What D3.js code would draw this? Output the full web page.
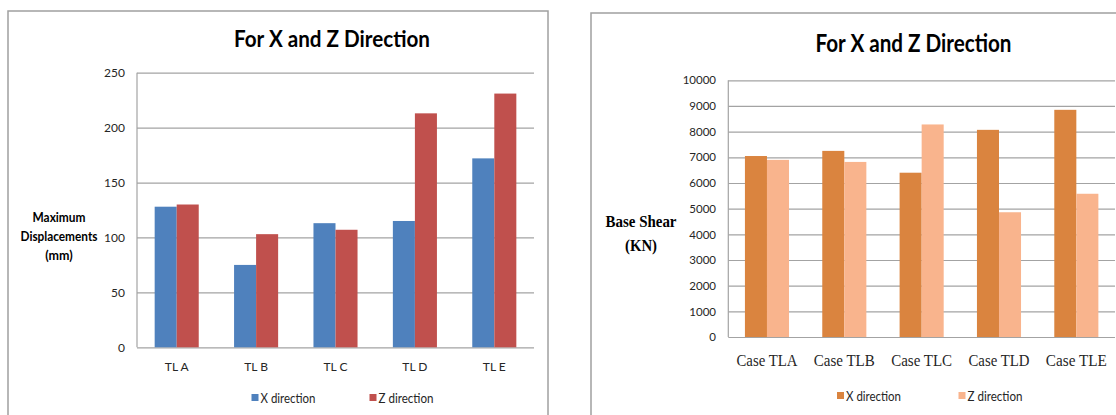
<!DOCTYPE html>
<html>
<head>
<meta charset="utf-8">
<script src="https://cdn.jsdelivr.net/npm/d3@7"></script>
<style>
  html, body { margin: 0; padding: 0; background: #fff; }
  svg { display: block; }
</style>
</head>
<body>
<svg id="chart" width="1116" height="415"></svg>
<script>
// ---------- data ----------
const seriesNames = ["X direction", "Z direction"];

const dispCategories = ["TL A", "TL B", "TL C", "TL D", "TL E"];
const dispX = [128, 75, 113, 115, 172];
const dispZ = [130, 103, 107, 213, 231];
const dispTicks = [0, 50, 100, 150, 200, 250];

const shearCategories = ["Case TLA", "Case TLB", "Case TLC", "Case TLD", "Case TLE"];
const shearX = [7050, 7250, 6400, 8070, 8850];
const shearZ = [6900, 6820, 8280, 4860, 5580];
const shearTicks = [0, 1000, 2000, 3000, 4000, 5000, 6000, 7000, 8000, 9000, 10000];

// ---------- drawing ----------
const svg = d3.select("#chart");
const sansFont = "Lato, 'Open Sans', sans-serif";
const serifFont = "'Liberation Serif', 'DejaVu Serif', serif";

function fitText(sel, target) {
  sel.each(function () {
    const w = this.getComputedTextLength();
    if (w > target) {
      d3.select(this).attr("textLength", target).attr("lengthAdjust", "spacingAndGlyphs");
    }
  });
}

function drawChart(cfg) {
  const g = svg.append("g");

  // frame
  g.append("rect")
    .attr("x", cfg.frame[0]).attr("y", cfg.frame[1])
    .attr("width", cfg.frame[2]).attr("height", cfg.frame[3])
    .attr("fill", "#fff").attr("stroke", "#a0a0a0").attr("stroke-width", 1.5);

  const x0 = d3.scaleBand().domain(cfg.categories)
    .range([cfg.left, cfg.right]).paddingInner(cfg.pad).paddingOuter(cfg.pad / 2);
  const x1 = d3.scaleBand().domain(seriesNames).range([0, x0.bandwidth()]);
  const y = d3.scaleLinear().domain([0, cfg.max]).range([cfg.bottom, cfg.top]);

  // gridlines
  const grid = g.append("g")
    .attr("transform", `translate(${cfg.left},0)`)
    .call(d3.axisLeft(y).tickValues(cfg.ticks).tickSize(-(cfg.right - cfg.left)).tickFormat(""));
  grid.select(".domain").remove();
  grid.selectAll("line").attr("stroke", "#a3a3a3").attr("stroke-width", 1.2);

  // y tick labels
  const yAxis = g.append("g")
    .attr("transform", `translate(${cfg.labelX},0)`)
    .call(d3.axisLeft(y).tickValues(cfg.ticks).tickSize(0).tickPadding(0).tickFormat(d3.format("d")));
  yAxis.select(".domain").remove();
  yAxis.selectAll("text")
    .attr("font-family", sansFont).attr("font-size", cfg.tickSize)
    .attr("fill", "#262626");

  // vertical axis line
  g.append("line")
    .attr("x1", cfg.left).attr("x2", cfg.left)
    .attr("y1", cfg.top).attr("y2", cfg.bottom)
    .attr("stroke", "#a3a3a3").attr("stroke-width", 1.2);

  // bars
  const rows = cfg.categories.map((c, i) => ({ cat: c, vals: [cfg.xs[i], cfg.zs[i]] }));
  const groups = g.append("g").selectAll("g").data(rows).join("g")
    .attr("transform", d => `translate(${x0(d.cat)},0)`);
  groups.selectAll("rect")
    .data(d => d.vals.map((v, k) => ({ name: seriesNames[k], v: v, k: k })))
    .join("rect")
    .attr("x", d => x1(d.name))
    .attr("width", x1.bandwidth())
    .attr("y", d => y(d.v))
    .attr("height", d => y(0) - y(d.v))
    .attr("fill", d => cfg.colors[d.k]);

  // x labels
  const xl = g.append("g").selectAll("text").data(cfg.categories).join("text")
    .attr("x", d => x0(d) + x0.bandwidth() / 2)
    .attr("y", cfg.xLabelY)
    .attr("text-anchor", "middle")
    .attr("font-family", cfg.xFont).attr("font-size", cfg.xSize)
    .attr("fill", "#262626")
    .text(d => d);
  if (cfg.xFit) fitText(xl, cfg.xFit);

  // title
  const t = g.append("text")
    .attr("x", cfg.titleX).attr("y", cfg.titleY)
    .attr("text-anchor", "middle")
    .attr("font-family", sansFont).attr("font-weight", "bold")
    .attr("font-size", cfg.titleSize).attr("fill", "#000")
    .text("For X and Z Direction");
  fitText(t, cfg.titleW);

  // y title
  cfg.yTitle.forEach((line, i) => {
    const tt = g.append("text")
      .attr("x", cfg.yTitleX).attr("y", cfg.yTitleY[i])
      .attr("text-anchor", "middle")
      .attr("font-family", cfg.yTitleFont).attr("font-weight", "bold")
      .attr("font-size", cfg.yTitleSize).attr("fill", "#000")
      .text(line);
    fitText(tt, cfg.yTitleW[i]);
  });

  // legend
  seriesNames.forEach((name, k) => {
    g.append("rect")
      .attr("x", cfg.legendX[k]).attr("y", cfg.legendY - 4)
      .attr("width", 7).attr("height", 7)
      .attr("fill", cfg.colors[k]);
    const lt = g.append("text")
      .attr("x", cfg.legendX[k] + 9).attr("y", cfg.legendY + 4.5)
      .attr("font-family", sansFont).attr("font-size", 12.5)
      .attr("fill", "#262626")
      .text(name);
    fitText(lt, cfg.legendW);
  });
}

drawChart({
  frame: [8, 11, 540, 420],
  categories: dispCategories, xs: dispX, zs: dispZ, ticks: dispTicks, max: 250,
  left: 137, right: 534, top: 72.7, bottom: 347.3, pad: 0.445,
  labelX: 125, tickSize: 12,
  colors: ["#4f81bd", "#c0504d"],
  xLabelY: 371, xFont: sansFont, xSize: 12, xFit: null,
  titleX: 332, titleY: 47, titleSize: 23, titleW: 196,
  yTitle: ["Maximum", "Displacements", "(mm)"],
  yTitleX: 59, yTitleY: [222, 241, 260], yTitleSize: 12.5, yTitleFont: sansFont,
  yTitleW: [53, 77, 28],
  legendX: [251.5, 369.5], legendY: 398, legendW: 55
});

drawChart({
  frame: [591, 13, 600, 420],
  categories: shearCategories, xs: shearX, zs: shearZ, ticks: shearTicks, max: 10000,
  left: 728.3, right: 1115, top: 80.3, bottom: 337, pad: 0.43,
  labelX: 716, tickSize: 11.5,
  colors: ["#da843f", "#f9b48d"],
  xLabelY: 366, xFont: serifFont, xSize: 17.5, xFit: 61,
  titleX: 913.5, titleY: 52, titleSize: 24, titleW: 196,
  yTitle: ["Base Shear", "(KN)"],
  yTitleX: 641, yTitleY: [227, 251], yTitleSize: 17, yTitleFont: serifFont,
  yTitleW: [71, 32],
  legendX: [837, 958.5], legendY: 396, legendW: 55
});
</script>
</body>
</html>
